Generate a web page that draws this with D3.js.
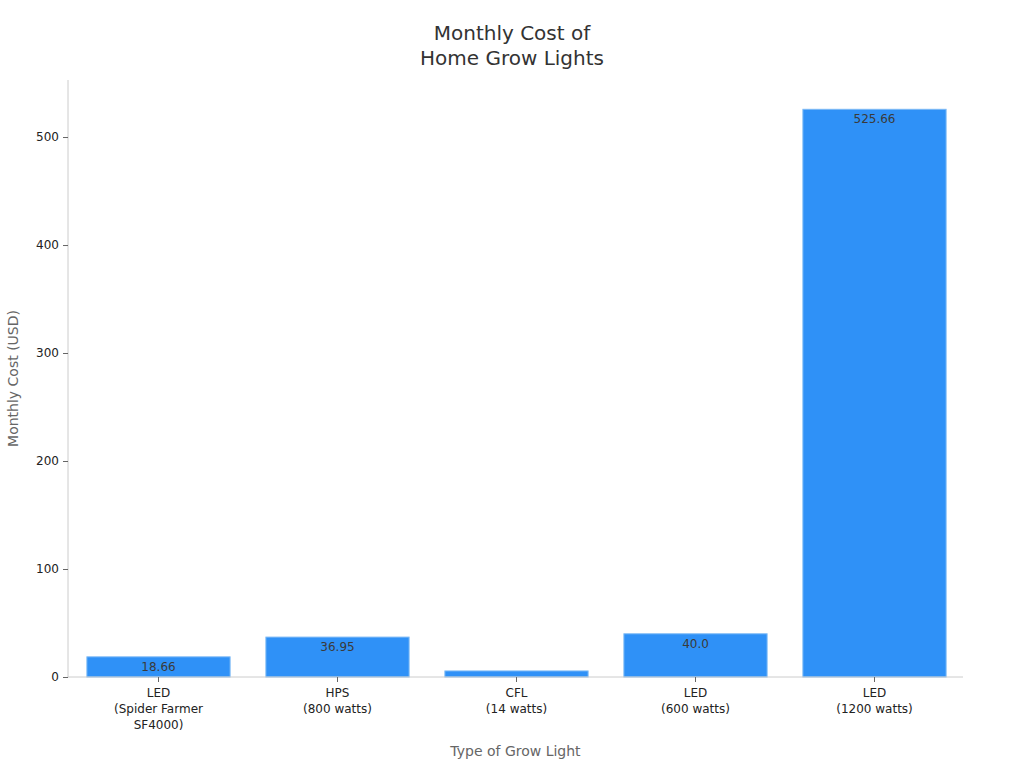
<!DOCTYPE html>
<html><head><meta charset="utf-8">
<script src="https://cdn.jsdelivr.net/npm/d3@7"></script>
<style>body{margin:0;background:#fff;font-family:"DejaVu Sans",sans-serif;}</style>
</head><body>
<svg id="c" width="1024" height="768"></svg>
<script>
const categories = ["LED\n(Spider Farmer\nSF4000)", "HPS\n(800 watts)", "CFL\n(14 watts)", "LED\n(600 watts)", "LED\n(1200 watts)"];
const values = [18.66, 36.95, 5.6, 40.0, 525.66];
const valueLabels = ["18.66", "36.95", "", "40.0", "525.66"];
const yTicks = [0, 100, 200, 300, 400, 500];
const titleLines = ["Monthly Cost of", "Home Grow Lights"];

const svg = d3.select("#c");
const m = {l: 68, r: 61, t: 80, b: 91};
const W = 1024, H = 768;
const x = d3.scaleBand().domain(d3.range(categories.length)).range([m.l + 1, W - m.r + 1]).paddingInner(0.2).paddingOuter(0.1);
const y = d3.scaleLinear().domain([0, 552.8]).range([H - m.b, m.t]);

// title
svg.append("text").attr("x", 512).attr("y", 40).attr("text-anchor", "middle")
  .style("font-size", "20px").attr("fill", "#333")
  .selectAll("tspan").data(titleLines).join("tspan")
  .attr("x", 512).attr("dy", (d, i) => i ? 25 : 0).text(d => d);

// bars
svg.append("g").selectAll("rect").data(values).join("rect")
  .attr("x", (d, i) => x(i)).attr("width", x.bandwidth())
  .attr("y", d => y(d)).attr("height", d => y(0) - y(d))
  .attr("fill", "#2f91f7").attr("stroke", "#7ab8f5").attr("stroke-width", 1);

svg.append("g").selectAll("text").data(values).join("text")
  .attr("x", (d, i) => x(i) + x.bandwidth() / 2)
  .attr("y", d => y(d) + 14)
  .attr("text-anchor", "middle").style("font-size", "12px").attr("fill", "#3a3a3a")
  .text((d, i) => valueLabels[i]);

// y axis
const ya = svg.append("g").attr("transform", `translate(${m.l},0)`)
  .call(d3.axisLeft(y).tickValues(yTicks).tickSize(5).tickPadding(4));
ya.select(".domain").attr("stroke", "#ccc").attr("d", `M0,${m.t}V${H - m.b}`);
ya.selectAll(".tick line").attr("stroke", "#666");
ya.selectAll(".tick text").style("font-size", "12px").style("font-family", "DejaVu Sans").attr("fill", "#222");

// x axis
const xa = svg.append("g").attr("transform", `translate(0,${H - m.b})`)
  .call(d3.axisBottom(x).tickSize(5).tickFormat(""));
xa.select(".domain").attr("stroke", "#ccc").attr("d", `M${m.l},0H${W - m.r}`);
xa.selectAll(".tick line").attr("stroke", "#666");
xa.selectAll(".tick").append("text").attr("text-anchor", "middle").attr("fill", "#222")
  .style("font-size", "12px").style("font-family", "DejaVu Sans")
  .attr("y", 20)
  .selectAll("tspan").data(i => categories[i].split("\n")).join("tspan")
  .attr("x", 0).attr("dy", (d, j) => j ? 16 : 0).text(d => d);

// axis titles
svg.append("text").attr("x", (m.l + W - m.r) / 2).attr("y", 756).attr("text-anchor", "middle")
  .style("font-size", "14px").attr("fill", "#666").text("Type of Grow Light");
svg.append("text").attr("transform", `translate(18,${(m.t + H - m.b) / 2}) rotate(-90)`)
  .attr("text-anchor", "middle").style("font-size", "14px").attr("fill", "#666").text("Monthly Cost (USD)");
</script>
</body></html>
